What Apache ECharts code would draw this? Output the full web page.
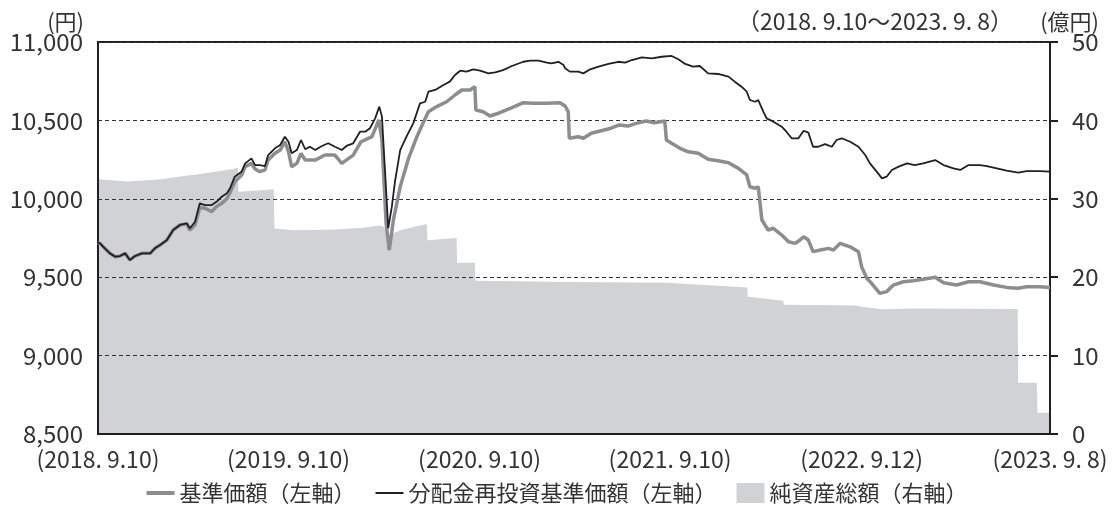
<!DOCTYPE html>
<html><head><meta charset="utf-8">
<script src="https://cdn.jsdelivr.net/npm/echarts@6/dist/echarts.min.js"></script>
<style>html,body{margin:0;padding:0;background:#fff}#c{width:1114px;height:518px}</style>
</head><body><div id="c"></div>
<script>
// x positions are days since 2018-09-10
const tickDays = [0, 365, 731, 1096, 1463, 1824];
const tickLabels = ['(2018. 9.10)', '(2019. 9.10)', '(2020. 9.10)', '(2021. 9.10)', '(2022. 9.12)', '(2023. 9. 8)'];
const leftTicks = [8500, 9000, 9500, 10000, 10500, 11000];
const rightTicks = [0, 10, 20, 30, 40, 50];

// 分配金再投資基準価額 (円) [day, value]
const reinvestNav = [[0,9720],[4,9716],[13,9684],[23,9652],[33,9631],[42,9635],[52,9652],[61,9610],[71,9635],[84,9652],[100,9652],[109,9684],[119,9705],[132,9737],[144,9801],[157,9833],[170,9844],[176,9812],[186,9854],[195,9971],[205,9960],[218,9960],[227,9981],[237,10013],[247,10035],[253,10067],[262,10141],[275,10173],[282,10226],[294,10258],[301,10215],[310,10215],[320,10209],[326,10279],[339,10322],[349,10343],[358,10396],[365,10364],[371,10290],[381,10311],[389,10375],[397,10316],[406,10332],[416,10311],[429,10337],[441,10354],[454,10332],[467,10311],[476,10337],[489,10354],[502,10428],[512,10428],[521,10450],[531,10513],[539,10588],[544,10524],[548,10290],[552,10056],[556,9812],[563,9950],[569,10109],[579,10311],[591,10396],[604,10481],[617,10609],[627,10619],[633,10683],[646,10694],[662,10726],[674,10747],[684,10790],[694,10817],[706,10811],[719,10826],[732,10817],[748,10800],[761,10806],[776,10821],[793,10847],[815,10874],[828,10881],[844,10881],[860,10868],[869,10864],[882,10874],[892,10853],[895,10832],[904,10811],[920,10811],[930,10800],[943,10826],[959,10843],[978,10860],[997,10874],[1010,10868],[1023,10885],[1042,10902],[1061,10896],[1080,10906],[1099,10911],[1112,10890],[1125,10860],[1140,10843],[1153,10847],[1169,10800],[1188,10796],[1208,10779],[1220,10747],[1233,10715],[1243,10683],[1249,10630],[1259,10619],[1265,10630],[1275,10555],[1281,10513],[1294,10492],[1310,10460],[1319,10428],[1329,10386],[1342,10386],[1352,10434],[1361,10422],[1370,10332],[1380,10332],[1393,10349],[1406,10332],[1415,10375],[1425,10386],[1441,10364],[1457,10332],[1470,10279],[1479,10226],[1492,10173],[1502,10130],[1511,10141],[1521,10184],[1534,10205],[1550,10226],[1565,10215],[1581,10226],[1604,10247],[1620,10215],[1639,10194],[1652,10184],[1668,10215],[1690,10215],[1703,10209],[1722,10194],[1741,10179],[1763,10167],[1779,10177],[1805,10177],[1824,10173]];

// 基準価額 (円) [day, value]
const nav = [[0,9720],[4,9716],[13,9684],[23,9652],[33,9631],[42,9635],[52,9652],[61,9610],[71,9635],[84,9652],[100,9652],[109,9684],[119,9705],[132,9737],[144,9801],[157,9833],[170,9840],[176,9800],[186,9835],[195,9945],[205,9940],[218,9918],[227,9950],[237,9971],[247,10000],[253,10040],[262,10109],[275,10150],[282,10205],[294,10226],[301,10190],[310,10173],[320,10185],[326,10247],[339,10290],[349,10311],[358,10364],[365,10300],[371,10205],[381,10226],[389,10290],[397,10247],[416,10247],[435,10279],[454,10279],[467,10226],[489,10279],[504,10364],[525,10396],[538,10503],[544,10375],[552,9844],[558,9673],[566,9865],[579,10077],[595,10258],[611,10396],[624,10492],[633,10555],[649,10588],[668,10619],[684,10662],[697,10694],[713,10694],[722,10715],[724,10566],[738,10555],[751,10528],[770,10549],[793,10581],[815,10613],[834,10609],[860,10609],[885,10613],[895,10592],[901,10555],[903,10386],[920,10396],[930,10386],[945,10418],[964,10434],[983,10450],[999,10471],[1015,10464],[1031,10481],[1050,10496],[1066,10485],[1086,10496],[1089,10375],[1099,10354],[1115,10322],[1131,10300],[1150,10290],[1169,10252],[1188,10243],[1208,10230],[1227,10194],[1243,10152],[1249,10077],[1259,10067],[1265,10077],[1272,9865],[1284,9801],[1294,9812],[1310,9769],[1323,9726],[1336,9716],[1345,9737],[1352,9758],[1361,9737],[1370,9663],[1384,9673],[1400,9684],[1409,9673],[1422,9716],[1441,9694],[1457,9663],[1463,9567],[1473,9493],[1482,9461],[1498,9397],[1511,9408],[1524,9450],[1543,9471],[1562,9478],[1581,9487],[1604,9500],[1620,9465],[1645,9450],[1668,9471],[1690,9471],[1716,9450],[1741,9435],[1763,9429],[1779,9439],[1805,9439],[1824,9435]];

// 純資産総額 (億円) [day, value]
const netAssets = [[0,32.5],[58,32.2],[122,32.5],[154,32.8],[199,33.2],[259,33.8],[268,34.0],[269,30.9],[333,31.2],[337,31.2],[338,26.2],[377,26.0],[454,26.1],[508,26.3],[540,26.6],[548,26.4],[557,25.2],[566,25.6],[579,26.0],[617,26.6],[630,26.8],[631,24.7],[687,25.0],[688,21.85],[722,21.85],[723,19.55],[904,19.4],[905,19.15],[1090,19.3],[1092,19.1],[1244,18.7],[1245,17.5],[1272,17.3],[1275,17.1],[1313,17.0],[1314,16.5],[1453,16.4],[1466,16.2],[1504,15.9],[1562,16.0],[1762,15.95],[1763,6.55],[1799,6.55],[1800,2.7],[1824,2.7]];

const seriesNames = ['基準価額（左軸）', '分配金再投資基準価額（左軸）', '純資産総額（右軸）'];
const FONT = '"Noto Sans CJK JP", "Noto Sans", sans-serif';
const TXT = '#333';
const DARK = '#231f20';
const GRAY = '#8c8d8f';
const FILL = '#d1d2d4';

const chart = echarts.init(document.getElementById('c'), null, {renderer: 'canvas'});
chart.setOption({
  animation: false,
  textStyle: {fontFamily: FONT, color: TXT},
  grid: {left: 98, right: 64, top: 42, bottom: 84, show: true, borderColor: DARK, borderWidth: 2, backgroundColor: 'transparent'},
  graphic: [
    {type: 'text', x: 84, y: 22, style: {text: '(円)', font: '22px ' + FONT, fill: TXT, align: 'right', verticalAlign: 'middle'}},
    {type: 'text', x: 1013, y: 21, style: {text: '（2018. 9.10～2023. 9. 8）', font: '23px ' + FONT, fill: TXT, align: 'right', verticalAlign: 'middle'}},
    {type: 'text', x: 1099, y: 22, style: {text: '(億円)', font: '22px ' + FONT, fill: TXT, align: 'right', verticalAlign: 'middle'}}
  ],
  legend: {
    bottom: 9, left: 'center', itemWidth: 28, itemHeight: 20, itemGap: 20, symbolKeepAspect: true,
    textStyle: {fontSize: 22, color: TXT, fontFamily: FONT},
    data: [
      {name: seriesNames[0], icon: 'path://M0,0h28v4h-28z'},
      {name: seriesNames[1], icon: 'path://M0,0h28v2h-28z'},
      {name: seriesNames[2], icon: 'rect'}
    ]
  },
  xAxis: {
    type: 'value', min: 0, max: 1824, z: 2,
    axisLine: {show: true, onZero: false, lineStyle: {color: DARK, width: 2}},
    axisTick: {show: false}, splitLine: {show: false},
    axisLabel: {customValues: tickDays, formatter: v => tickLabels[tickDays.indexOf(v)], margin: 14, fontSize: 23, color: TXT, fontFamily: FONT}
  },
  yAxis: [
    {
      type: 'value', min: leftTicks[0], max: leftTicks[leftTicks.length - 1], interval: 500, position: 'left', z: 2,
      axisLine: {show: true, lineStyle: {color: DARK, width: 2}},
      axisTick: {show: false},
      axisLabel: {margin: 15, fontSize: 24, color: TXT, fontFamily: FONT, formatter: v => v.toLocaleString('en-US')},
      splitLine: {show: true, lineStyle: {color: '#333', width: 1, type: [4, 3]}}
    },
    {
      type: 'value', min: rightTicks[0], max: rightTicks[rightTicks.length - 1], interval: 10, position: 'right', z: 2,
      axisLine: {show: true, lineStyle: {color: DARK, width: 2}},
      axisTick: {show: true, inside: false, length: 8, lineStyle: {color: DARK, width: 2}},
      axisLabel: {margin: 22, fontSize: 24, color: TXT, fontFamily: FONT},
      splitLine: {show: false}
    }
  ],
  series: [
    {
      name: seriesNames[2], type: 'line', yAxisIndex: 1, z: 1, data: netAssets,
      symbol: 'none', lineStyle: {width: 0, color: FILL}, itemStyle: {color: FILL},
      areaStyle: {color: FILL, opacity: 1}
    },
    {
      name: seriesNames[0], type: 'line', yAxisIndex: 0, z: 3, data: nav,
      symbol: 'none', lineStyle: {width: 3.5, color: GRAY}, itemStyle: {color: GRAY}
    },
    {
      name: seriesNames[1], type: 'line', yAxisIndex: 0, z: 4, data: reinvestNav,
      symbol: 'none', lineStyle: {width: 1.8, color: DARK}, itemStyle: {color: DARK}
    }
  ]
});
</script></body></html>
